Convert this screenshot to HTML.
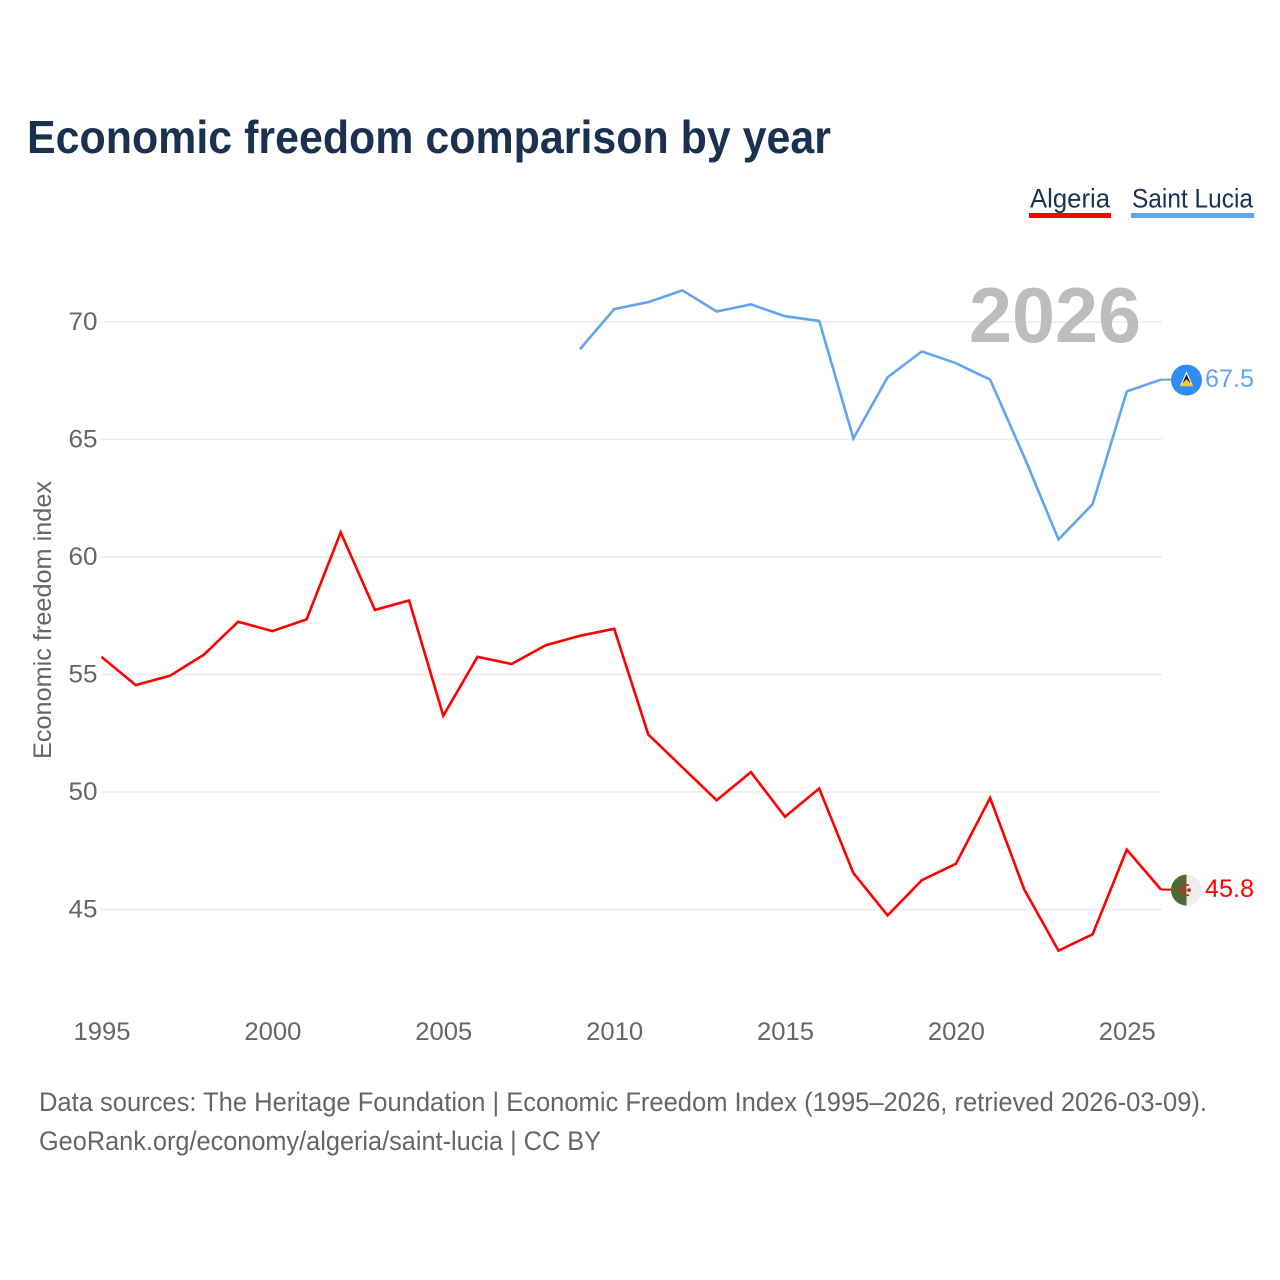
<!DOCTYPE html>
<html lang="en">
<head>
<meta charset="utf-8">
<title>Economic freedom comparison by year</title>
<style>
html,body{margin:0;padding:0;background:#fff;width:1280px;height:1280px;overflow:hidden}
svg{display:block}
text{font-family:"Liberation Sans",sans-serif}
</style>
</head>
<body>
<svg id="chart" width="1280" height="1280" viewBox="0 0 1280 1280" xmlns="http://www.w3.org/2000/svg">
  <text x="27" y="153" font-size="46" font-weight="700" fill="#1a3150" textLength="804" lengthAdjust="spacingAndGlyphs">Economic freedom comparison by year</text>
  <g>
    <g>
      <text x="1030" y="207.5" font-size="27" fill="#1a3150" textLength="80" lengthAdjust="spacingAndGlyphs">Algeria</text>
      <rect x="1029" y="213" width="82" height="5" fill="#ff0000"/>
    </g>
    <g>
      <text x="1132" y="207.5" font-size="27" fill="#1a3150" textLength="121" lengthAdjust="spacingAndGlyphs">Saint Lucia</text>
      <rect x="1131" y="213" width="123" height="5" fill="#62a5ee"/>
    </g>
  </g>
  <text transform="translate(51,759) rotate(-90)" font-size="25" fill="#666666" textLength="278" lengthAdjust="spacingAndGlyphs">Economic freedom index</text>
  <g id="grid"></g>
  <g id="yticks"></g>
  <g id="xticks"></g>
  <text x="969" y="342" font-size="78" font-weight="700" fill="#bdbdbd" textLength="172" lengthAdjust="spacingAndGlyphs">2026</text>
  <g id="series"></g>
  <g id="ends"></g>
  <text x="39" y="1111" font-size="27" fill="#666666" textLength="1168" lengthAdjust="spacingAndGlyphs">Data sources: The Heritage Foundation | Economic Freedom Index (1995–2026, retrieved 2026-03-09).</text>
  <text x="39" y="1150" font-size="27" fill="#666666" textLength="562" lengthAdjust="spacingAndGlyphs">GeoRank.org/economy/algeria/saint-lucia | CC BY</text>
</svg>
<script>
const yTickValues = [45, 50, 55, 60, 65, 70];
const xTickYears = [1995, 2000, 2005, 2010, 2015, 2020, 2025];
const algeriaYears = [1995,1996,1997,1998,1999,2000,2001,2002,2003,2004,2005,2006,2007,2008,2009,2010,2011,2012,2013,2014,2015,2016,2017,2018,2019,2020,2021,2022,2023,2024,2025,2026];
const algeriaValues = [55.7,54.5,54.9,55.8,57.2,56.8,57.3,61.0,57.7,58.1,53.2,55.7,55.4,56.2,56.6,56.9,52.4,51.0,49.6,50.8,48.9,50.1,46.5,44.7,46.2,46.9,49.7,45.8,43.2,43.9,47.5,45.8];
const saintLuciaYears = [2009,2010,2011,2012,2013,2014,2015,2016,2017,2018,2019,2020,2021,2022,2023,2024,2025,2026];
const saintLuciaValues = [68.8,70.5,70.8,71.3,70.4,70.7,70.2,70.0,65.0,67.6,68.7,68.2,67.5,64.2,60.7,62.2,67.0,67.5];

const NS = 'http://www.w3.org/2000/svg';
const x = yr => 101.5 + (yr - 1995) * (1161 - 101.5) / 31;
const y = v => 322 + (70 - v) * 23.5;
const markY = v => y(v) - 1.1;
function make(tag, parent, props, text) {
  const el = document.createElementNS(NS, tag);
  for (const k in props) el.setAttribute(k, props[k]);
  if (text !== undefined) el.textContent = text;
  parent.appendChild(el);
  return el;
}
const grid = document.getElementById('grid');
const yticks = document.getElementById('yticks');
const xticks = document.getElementById('xticks');
const series = document.getElementById('series');
const ends = document.getElementById('ends');

yTickValues.forEach(v => {
  const line = make('line', grid, {x1: 101, x2: 1162, y1: y(v), y2: y(v), stroke: '#ebebeb', 'stroke-width': 1.5});
  
  
  const label = make('text', yticks, {x: 97.5, y: y(v) + 8, 'text-anchor': 'end', 'font-size': 25, fill: '#666666', textLength: 29, lengthAdjust: 'spacingAndGlyphs'}, String(v));
  
  
});
xTickYears.forEach(yr => {
  const label = make('text', xticks, {x: x(yr) + 0.5, y: 1040, 'text-anchor': 'middle', 'font-size': 25, fill: '#666666', textLength: 57, lengthAdjust: 'spacingAndGlyphs'}, String(yr));
  
  
});

function drawLine(years, values, color, name) {
  const d = years.map((yr, i) => (i ? 'L' : 'M') + x(yr).toFixed(1) + ' ' + markY(values[i]).toFixed(1)).join(' ');
  const path = make('path', series, {d, fill: 'none', stroke: color, 'stroke-width': 2.6, 'stroke-linejoin': 'miter'});
  
  
}
drawLine(algeriaYears, algeriaValues, '#ff0000', 'line-algeria');
drawLine(saintLuciaYears, saintLuciaValues, '#62a5ee', 'line-saint-lucia');

function endMarker(years, values, color, key) {
  const yr = years[years.length - 1];
  const v = values[values.length - 1];
  const g = make('g', ends, {});
  
  
  const cy = markY(v);
  const flag = make('g', g, {transform: 'translate(1186.5,' + (cy + 0.5).toFixed(1) + ')'});
  
  
  make('line', g, {x1: x(yr), x2: 1171, y1: cy, y2: cy, stroke: color, 'stroke-width': 2});
  if (key === 'saint-lucia') {
    make('circle', flag, {cx: 0, cy: 0, r: 15.5, fill: '#2f8df2'});
    make('polygon', flag, {points: '0,-9 6.5,6 -6.5,6', fill: '#f5f5f5'});
    make('polygon', flag, {points: '0,-6 4,3 -4,3', fill: '#222222'});
    make('polygon', flag, {points: '0,-1 6.5,6 -6.5,6', fill: '#f7c531'});
  } else {
    make('circle', flag, {cx: 0, cy: 0, r: 15.5, fill: '#eeeeee'});
    make('path', flag, {d: 'M0 -15.5 A15.5 15.5 0 0 0 0 15.5 Z', fill: '#4e6b33'});
    make('path', flag, {d: 'M2.5 -4.6 A5.2 5.2 0 1 0 2.5 4.6', fill: 'none', stroke: '#d2232f', 'stroke-width': 1.7});
    make('circle', flag, {cx: 2.5, cy: 0, r: 1.9, fill: '#d2232f'});
  }
  const label = make('text', g, {x: 1205, y: cy + 7.3, 'font-size': 25, fill: color, textLength: 49, lengthAdjust: 'spacingAndGlyphs'}, v.toFixed(1));
  
  
}
endMarker(algeriaYears, algeriaValues, '#ff0000', 'algeria');
endMarker(saintLuciaYears, saintLuciaValues, '#62a5ee', 'saint-lucia');
</script>
</body>
</html>
